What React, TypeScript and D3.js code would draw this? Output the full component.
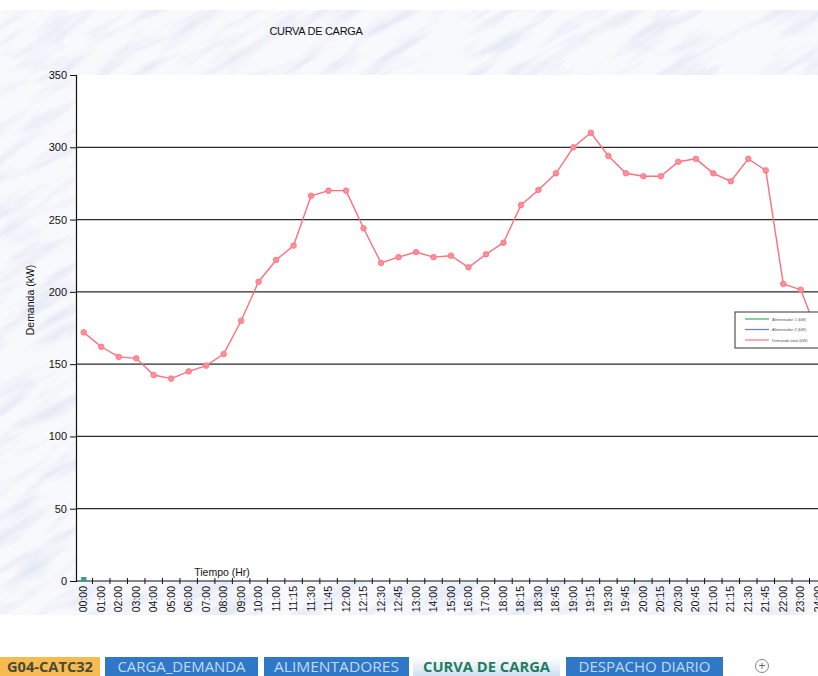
import React, { useEffect, useRef } from 'react';
import * as d3 from 'd3';

// horas registradas en la hoja
const horas = [
  '00:00', '01:00', '02:00', '03:00', '04:00', '05:00', '06:00', '07:00', '08:00', '09:00', '10:00',
  '11:00', '11:15', '11:30', '11:45', '12:00', '12:15', '12:30', '12:45', '13:00', '14:00', '15:00',
  '16:00', '17:00', '18:00', '18:15', '18:30', '18:45', '19:00', '19:15', '19:30', '19:45', '20:00',
  '20:15', '20:30', '20:45', '21:00', '21:15', '21:30', '21:45', '22:00', '23:00', '24:00'
];

// demanda total (kW)
const demanda = [
  172, 162, 155, 154, 142.5, 140, 145, 149, 157, 180, 207,
  222, 232, 266.5, 270, 270, 244, 220, 224, 227.5, 224, 225,
  217, 226, 234, 260, 270.5, 282, 300, 310, 294, 282, 280,
  280, 290, 292, 282, 276.5, 292, 284, 205.5, 201.5, 170
];

// las otras dos series solo tienen el primer punto en cero
const alimentador1 = [0];
const alimentador2 = [0];

const yTicks = [0, 50, 100, 150, 200, 250, 300, 350];
const gridValues = [50, 100, 150, 200, 250, 300];

const leyenda = ['Alimentador 1 (kW)', 'Alimentador 2 (kW)', 'Demanda total (kW)'];
const coloresLeyenda = ['#3fae5a', '#5b7fe0', '#ff6f7c'];

const pestanas = ['G04-CATC32', 'CARGA_DEMANDA', 'ALIMENTADORES', 'CURVA DE CARGA', 'DESPACHO DIARIO'];

const W = 818;
const H = 676;

const App = () => {
  const svgRef = useRef<SVGSVGElement>(null);

  useEffect(() => {
    document.body.style.margin = '0';
    document.body.style.overflow = 'hidden';

    const svg = d3.select(svgRef.current);
    svg.selectAll('*').remove();
    svg.attr('width', W).attr('height', H);

    const font = '"Liberation Sans", Arial, sans-serif';
    const plot = { left: 76, right: W, top: 75, bottom: 581 };

    // fondo marmoleado
    const defs = svg.append('defs');
    const f = defs.append('filter').attr('id', 'marble')
      .attr('x', 0).attr('y', 0).attr('width', 1).attr('height', 1);
    f.append('feTurbulence')
      .attr('type', 'fractalNoise')
      .attr('baseFrequency', '0.015 0.07')
      .attr('numOctaves', 4)
      .attr('seed', 11);
    f.append('feColorMatrix')
      .attr('type', 'matrix')
      .attr('values', '0 0 0 0 0.62  0 0 0 0 0.68  0 0 0 0 0.86  2.2 0 0 0 -1.0');

    const clip = defs.append('clipPath').attr('id', 'bgclip');
    clip.append('rect').attr('x', 0).attr('y', 10).attr('width', W).attr('height', 605);

    const grad = defs.append('linearGradient').attr('id', 'tabActive')
      .attr('x1', 0).attr('y1', 0).attr('x2', 0).attr('y2', 1);
    grad.append('stop').attr('offset', '0%').attr('stop-color', '#ffffff');
    grad.append('stop').attr('offset', '100%').attr('stop-color', '#cfe0f1');

    svg.append('rect').attr('width', W).attr('height', H).attr('fill', '#ffffff');
    const bg = svg.append('g').attr('clip-path', 'url(#bgclip)');
    bg.append('rect').attr('x', 0).attr('y', 10).attr('width', W).attr('height', 605).attr('fill', '#f8f9fc');
    bg.append('g')
      .attr('transform', 'rotate(-30 409 310)')
      .attr('opacity', 0.55)
      .append('rect')
      .attr('x', -300).attr('y', -300).attr('width', 1400).attr('height', 1200)
      .attr('filter', 'url(#marble)');

    // area de trazado
    svg.append('rect')
      .attr('x', plot.left).attr('y', plot.top)
      .attr('width', plot.right - plot.left).attr('height', plot.bottom - plot.top)
      .attr('fill', '#ffffff');

    const x = d3.scaleBand<string>().domain(horas).range([75, 827]).padding(0);
    const y = d3.scaleLinear().domain([0, 350]).range([plot.bottom, plot.top]);
    const cx = (h: string) => (x(h) as number) + x.bandwidth() / 2;

    // lineas de division
    svg.append('g').selectAll('line').data(gridValues).join('line')
      .attr('x1', plot.left).attr('x2', plot.right)
      .attr('y1', d => y(d)).attr('y2', d => y(d))
      .attr('stroke', '#2b2b2b').attr('stroke-width', 1.2);

    // eje y
    const yAxis = svg.append('g').attr('transform', `translate(${plot.left},0)`)
      .call(d3.axisLeft(y).tickValues(yTicks).tickSize(6).tickPadding(3));
    yAxis.select('.domain').attr('stroke', '#111').attr('stroke-width', 1.2);
    yAxis.selectAll('line').attr('stroke', '#111');
    yAxis.selectAll('text').attr('font-family', font).attr('font-size', 11).attr('fill', '#111');

    // eje x con marcas entre categorias
    const xg = svg.append('g');
    xg.append('line')
      .attr('x1', plot.left).attr('x2', plot.right)
      .attr('y1', plot.bottom).attr('y2', plot.bottom)
      .attr('stroke', '#111').attr('stroke-width', 1.2);
    xg.selectAll('line.tk').data(horas).join('line').attr('class', 'tk')
      .attr('x1', d => (x(d) as number) + x.bandwidth())
      .attr('x2', d => (x(d) as number) + x.bandwidth())
      .attr('y1', plot.bottom - 3).attr('y2', plot.bottom + 3)
      .attr('stroke', '#111');
    xg.selectAll('text').data(horas).join('text')
      .attr('transform', d => `translate(${cx(d) + 3.5},${plot.bottom + 5}) rotate(-90)`)
      .attr('text-anchor', 'end')
      .attr('font-family', font).attr('font-size', 10.5).attr('fill', '#111')
      .text(d => d);

    // titulos
    svg.append('text')
      .attr('x', 316).attr('y', 35).attr('text-anchor', 'middle')
      .attr('font-family', font).attr('font-size', 11).attr('fill', '#111')
      .attr('letter-spacing', -0.3)
      .text('CURVA DE CARGA');
    svg.append('text')
      .attr('x', 222).attr('y', 576).attr('text-anchor', 'middle')
      .attr('font-family', font).attr('font-size', 10.5).attr('fill', '#111')
      .text('Tiempo (Hr)');
    svg.append('text')
      .attr('transform', 'translate(34,300) rotate(-90)').attr('text-anchor', 'middle')
      .attr('font-family', font).attr('font-size', 10.5).attr('fill', '#111')
      .text('Demanda (kW)');

    // series secundarias
    [alimentador1, alimentador2].forEach(serie => {
      svg.append('g').selectAll('rect').data(serie).join('rect')
        .attr('x', (_, i) => cx(horas[i]) - 2.5)
        .attr('y', d => y(d) - 4)
        .attr('width', 5).attr('height', 5)
        .attr('fill', '#3d9a92');
    });

    // demanda total
    const line = d3.line<number>()
      .x((_, i) => cx(horas[i]))
      .y(d => y(d));
    svg.append('path').datum(demanda)
      .attr('d', line)
      .attr('fill', 'none')
      .attr('stroke', '#ff6f7c')
      .attr('stroke-width', 1.4);
    svg.append('g').selectAll('circle').data(demanda).join('circle')
      .attr('cx', (_, i) => cx(horas[i]))
      .attr('cy', d => y(d))
      .attr('r', 2.8)
      .attr('fill', '#ff8f99')
      .attr('stroke', '#ff6f7c')
      .attr('stroke-width', 0.8);

    // leyenda
    const lg = svg.append('g').attr('transform', 'translate(735,312)');
    lg.append('rect').attr('width', 95).attr('height', 36)
      .attr('fill', '#ffffff').attr('stroke', '#333').attr('stroke-width', 1);
    leyenda.forEach((t, i) => {
      const row = lg.append('g').attr('transform', `translate(0,${7 + i * 10.5})`);
      row.append('line').attr('x1', 10).attr('x2', 34)
        .attr('stroke', coloresLeyenda[i]).attr('stroke-width', 1.2);
      row.append('text').attr('x', 37).attr('y', 1.5)
        .attr('font-family', font).attr('font-size', 4).attr('fill', '#555')
        .text(t);
    });

    // pestanas de la hoja
    const tabX = [0, 105, 264, 413, 566];
    const tabW = [100, 153, 145, 147, 157];
    const tabs = svg.append('g').attr('transform', 'translate(0,657)');
    pestanas.forEach((t, i) => {
      const activa = i === 3;
      const fill = i === 0 ? '#f8bb4f' : activa ? 'url(#tabActive)' : '#2f78c8';
      tabs.append('rect').attr('x', tabX[i]).attr('y', 0)
        .attr('width', tabW[i]).attr('height', 19).attr('fill', fill);
      tabs.append('text')
        .attr('x', tabX[i] + tabW[i] / 2).attr('y', 14.5)
        .attr('text-anchor', 'middle')
        .attr('font-family', '"Open Sans", "Noto Sans", sans-serif')
        .attr('font-size', 14)
        .attr('font-weight', i === 0 || activa ? 700 : 400)
        .attr('fill', i === 0 ? '#4a4a3a' : activa ? '#1f7d5e' : '#c2d9f4')
        .attr('textLength', [86, 128, 125, 127, 132][i])
        .attr('lengthAdjust', 'spacingAndGlyphs')
        .text(t);
    });
    tabs.append('circle').attr('cx', 762).attr('cy', 9).attr('r', 6.5)
      .attr('fill', 'none').attr('stroke', '#777').attr('stroke-width', 0.9);
    tabs.append('text').attr('x', 762).attr('y', 13).attr('text-anchor', 'middle')
      .attr('font-family', font).attr('font-size', 12).attr('fill', '#666')
      .text('+');
  }, []);

  return (
    <div style={{ width: W, height: H, overflow: 'hidden' }}>
      <svg ref={svgRef} style={{ display: 'block' }}></svg>
    </div>
  );
};

export default App;
